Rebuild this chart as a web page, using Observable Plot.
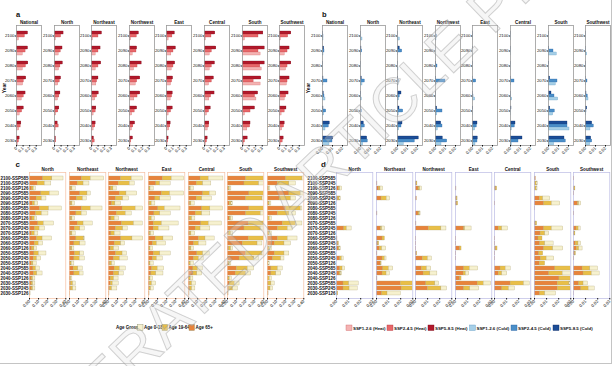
<!DOCTYPE html>
<html><head><meta charset="utf-8">
<script src="https://cdn.jsdelivr.net/npm/d3@7"></script>
<script src="https://cdn.jsdelivr.net/npm/@observablehq/plot@0.6"></script>
<style>
html,body{margin:0;padding:0;background:#fff;}
#root{position:relative;width:613px;height:366px;overflow:hidden;background:#fff;}
#root svg{position:absolute;}
</style></head>
<body><div id="root"></div>
<script>
// ---------------- DATA ----------------
const regionsAB = ["National","North","Northeast","Northwest","East","Central","South","Southwest"];
const regionsCD = ["North","Northeast","Northwest","East","Central","South","Southwest"];
const years = [2100,2090,2080,2070,2060,2050,2040,2030];
const scenarios = ["SSP585","SSP245","SSP126"];
const ageGroups = ["Age 65+","Age 19-64","Age 0-18"];
const xTicksA = [0,0.1,0.2,0.3];
const xTicksB = [0,0.01,0.02];
const xTicksC = [0,0.1,0.2,0.3,0.4];
const xTicksD = [0,0.01,0.02,0.03];
const heatLegend = ["SSP1-2.6 (Heat)","SSP2-4.5 (Heat)","SSP5-8.5 (Heat)"];
const coldLegend = ["SSP1-2.6 (Cold)","SSP2-4.5 (Cold)","SSP5-8.5 (Cold)"];
const ageLegend = ["Age 0-18","Age 19-64","Age 65+"];

// panel a: heat, rows = regionsAB, columns = years (2100..2030)
const heatSSP585 = [
 [.175,.175,.18,.148,.138,.111,.074,.048],
 [.138,.122,.127,.10,.09,.074,.048,.021],
 [.159,.138,.148,.106,.111,.074,.063,.037],
 [.143,.116,.185,.164,.164,.116,.085,.053],
 [.127,.143,.132,.10,.095,.095,.063,.032],
 [.164,.18,.159,.143,.153,.095,.074,.048],
 [.317,.338,.338,.286,.238,.19,.122,.079],
 [.18,.153,.18,.153,.138,.106,.079,.063]];
const heatSSP245 = [
 [.127,.138,.143,.111,.111,.085,.063,.037],
 [.10,.095,.09,.08,.074,.058,.063,.026],
 [.106,.106,.106,.085,.085,.063,.058,.048],
 [.111,.106,.122,.116,.122,.079,.058,.026],
 [.09,.106,.106,.085,.085,.069,.058,.026],
 [.106,.111,.111,.111,.10,.069,.069,.037],
 [.243,.243,.27,.169,.19,.122,.116,.037],
 [.132,.122,.122,.122,.10,.079,.069,.048]];
const heatSSP126 = [
 [.037,.095,.095,.10,.08,.048,.042,.02],
 [.02,.063,.069,.058,.053,.026,.021,.01],
 [.021,.063,.063,.074,.058,.032,.032,.021],
 [.026,.048,.069,.095,.074,.042,.037,.016],
 [.032,.074,.079,.069,.063,.032,.042,.016],
 [.021,.079,.079,.069,.074,.037,.048,.021],
 [.037,.275,.291,.275,.212,.037,.074,.021],
 [.021,.079,.10,.111,.079,.032,.042,.021]];

// panel b: cold
const coldSSP585 = [
 [.0005,.0017,.0005,.001,.0013,.001,.0073,.0107],
 [.0003,.001,.0003,.0013,.0007,.0007,.0033,.0067],
 [.0003,.0023,.0003,.0007,.004,.002,.005,.0213],
 [.0003,.0003,.0007,.0007,.0003,.0017,.0057,.0073],
 [.0003,.0003,.0003,.0003,.0003,.0007,.005,.0053],
 [.0003,.0003,.0003,.0003,.0003,.001,.005,.012],
 [.0003,.0007,.0007,.0017,.003,.0017,.019,.016],
 [.0003,.0003,.0003,.0003,.001,.0017,.0067,.0057]];
const coldSSP245 = [
 [.001,.002,.0005,.005,.002,.0037,.0063,.010],
 [.0007,.0017,.0003,.0043,.0007,.0013,.0043,.0073],
 [.0003,.0047,.0003,.0013,.0023,.0057,.004,.0173],
 [.0013,.0003,.002,.010,.0003,.007,.007,.0117],
 [.0007,.0003,.0003,.0037,.001,.0003,.0043,.005],
 [.0003,.0003,.0003,.004,.0007,.0003,.0043,.008],
 [.0003,.005,.0003,.009,.006,.0063,.019,.0173],
 [.0003,.0007,.0003,.002,.0023,.001,.0083,.0067]];
const coldSSP126 = [
 [.001,.001,.0005,.001,.003,.0017,.003,.007],
 [.002,.0007,.0003,.002,.0013,.0007,.002,.0027],
 [.0023,.0003,.001,.001,.0017,.0013,.0017,.0063],
 [.001,.0003,.0007,.001,.0003,.0017,.0023,.006],
 [.0003,.0003,.0003,.0007,.0027,.0003,.0027,.003],
 [.0003,.0003,.0003,.0007,.0017,.0003,.0013,.0013],
 [.0003,.0083,.0003,.0073,.0097,.0047,.021,.0057],
 [.0003,.0017,.0003,.0007,.003,.0007,.005,.0047]];

// panel c: heat by age group; rows = regionsCD, columns = 24 year-scenario rows
const heatAge65 = [
 [.151,.090,.029,.130,.079,.036,.115,.072,.032,.097,.061,.029,.083,.058,.029,.054,.047,.025,.043,.050,.022,.022,.022,.004],
 [.137,.090,.018,.119,.083,.018,.137,.076,.018,.090,.061,.018,.076,.054,.018,.061,.054,.011,.047,.054,.011,.018,.018,.000],
 [.137,.112,.029,.126,.083,.040,.155,.090,.032,.148,.083,.032,.141,.068,.025,.083,.061,.018,.068,.061,.025,.025,.018,.000],
 [.159,.086,.011,.148,.076,.014,.108,.065,.014,.058,.058,.014,.079,.050,.011,.058,.050,.011,.040,.032,.011,.014,.011,.004],
 [.133,.090,.018,.162,.090,.018,.151,.079,.018,.141,.079,.018,.115,.061,.018,.097,.061,.011,.054,.054,.011,.018,.018,.004],
 [.205,.187,.014,.241,.205,.025,.241,.205,.025,.234,.187,.018,.234,.169,.018,.205,.133,.011,.104,.090,.011,.025,.018,.004],
 [.205,.115,.011,.241,.133,.011,.205,.115,.007,.169,.115,.011,.115,.079,.011,.079,.061,.000,.043,.043,.007,.011,.011,.004]];
const heatAge1964 = [
 [.101,.079,.018,.094,.058,.025,.101,.065,.025,.061,.050,.029,.061,.043,.025,.050,.036,.018,.029,.036,.018,.018,.018,.004],
 [.097,.065,.014,.079,.065,.014,.097,.058,.014,.065,.058,.014,.086,.065,.014,.058,.058,.014,.050,.058,.007,.022,.022,.004],
 [.119,.123,.025,.072,.079,.036,.144,.101,.036,.133,.079,.036,.123,.072,.036,.072,.065,.022,.058,.058,.036,.022,.022,.004],
 [.097,.043,.011,.090,.054,.022,.072,.065,.022,.090,.054,.014,.086,.043,.011,.072,.043,.011,.061,.054,.011,.025,.018,.004],
 [.090,.072,.007,.072,.061,.014,.090,.072,.022,.083,.054,.014,.072,.054,.014,.065,.054,.014,.050,.043,.014,.022,.022,.004],
 [.198,.162,.011,.162,.180,.018,.162,.162,.014,.169,.180,.022,.169,.162,.022,.180,.162,.014,.119,.115,.014,.054,.043,.004],
 [.180,.126,.007,.126,.126,.014,.162,.126,.018,.144,.108,.014,.108,.108,.014,.108,.090,.011,.072,.054,.018,.032,.022,.004]];
const heatAge018 = [
 [.123,.072,.025,.101,.050,.036,.140,.072,.029,.112,.061,.040,.104,.050,.029,.083,.047,.036,.043,.058,.025,.025,.025,.004],
 [.148,.065,.036,.036,.043,.029,.130,.058,.029,.101,.050,.036,.007,.058,.022,.043,.058,.029,.050,.043,.014,.029,.036,.004],
 [.123,.054,.036,.119,.065,.061,.083,.065,.050,.097,.050,.065,.119,.043,.058,.050,.086,.029,.065,.050,.050,.065,.058,.007],
 [.137,.115,.036,.155,.115,.040,.173,.115,.036,.184,.119,.036,.108,.101,.029,.115,.065,.036,.072,.079,.029,.047,.029,.004],
 [.162,.090,.036,.072,.108,.036,.137,.090,.036,.144,.108,.043,.101,.083,.029,.072,.054,.036,.058,.054,.029,.043,.036,.004],
 [.054,.054,.018,.054,.036,.018,.054,.036,.022,.054,.036,.022,.054,.054,.022,.043,.054,.018,.072,.054,.022,.054,.054,.004],
 [.036,.072,.014,.054,.054,.018,.018,.072,.022,.072,.054,.022,.108,.072,.022,.054,.036,.014,.054,.054,.022,.036,.029,.004]];

// panel d: cold by age group
const coldAge65 = [
 [0,0,.0019,0,.0014,0,0,0,0,0,.0064,0,.0008,.0014,.0017,0,.0031,0,.0031,.0025,0,.0058,.0058,.0008],
 [0,.0008,.0022,0,.0042,0,0,.0008,0,0,.0036,0,.005,.0014,.0028,.0008,.005,.0036,.0056,.005,.0008,.020,.0208,.0047],
 [0,.0008,.0025,0,.0011,0,0,.0025,0,.0008,.0111,0,.0006,.0006,.0006,.0011,.0061,0,.0053,.0067,0,.0089,.0103,0],
 [0,0,.0008,0,.0011,.0014,0,0,0,0,.0072,0,.0006,.0006,.0039,.0006,.0006,0,.0072,.0067,.0039,.0183,.0072,0],
 [0,0,.0014,0,0,.0006,0,0,0,0,.0036,0,.0006,.0006,.0014,.0006,.0006,0,.005,.0036,0,.0133,.0064,0],
 [.0011,.0006,.0006,0,.0044,.008,.0003,0,0,.0011,.008,.005,.0033,.0047,.008,.0039,.0053,.0044,.0172,.0122,.0206,.0192,.0192,.0047],
 [.0006,0,.0008,.0006,0,.0036,0,.0006,0,0,.0025,.0008,0,.0019,.0028,.0014,.0006,0,.0075,.0083,0,.0047,.0064,.0003]];
const coldAge1964 = [
 [0,0,.0011,0,.0011,0,0,0,0,0,.0022,0,0,.0006,.0008,0,.0014,0,.0019,.0011,0,.0047,.0050,.0006],
 [0,0,.0011,0,.0042,0,0,0,0,0,.0011,0,.0019,.0008,.0019,0,.0019,.0006,.0047,.0033,0,.011,.0111,.0044],
 [0,.0008,.0014,0,0,0,0,.0011,0,0,.0103,0,0,0,0,.0003,.0042,0,.0042,.0056,0,.0075,.0111,0],
 [0,0,0,0,.0006,.0008,0,0,0,0,.0008,0,0,0,.0011,0,0,0,.0047,.0019,.0011,.005,.005,0],
 [0,0,.0008,0,0,0,0,0,0,0,.0028,0,0,0,.0011,0,0,0,.0042,.0028,0,.0111,.0056,0],
 [0,.0011,.0011,0,.0028,.0064,0,0,0,.0011,.0064,.0039,.0033,.0042,.0075,.0033,.0047,.0044,.0131,.0111,.0097,.0097,.0111,.0042],
 [0,0,.0008,0,0,.0011,0,0,0,0,.0017,.0008,0,.0022,.0019,.0006,0,0,.0064,.0069,0,.0036,.0061,0]];
const coldAge018 = [
 [0,0,.0017,0,.0011,0,0,0,0,0,.0039,0,0,0,.0011,0,.0014,0,.0022,.0011,0,.0078,.0067,0],
 [0,0,.0022,0,.0028,0,0,0,0,0,.0022,0,0,0,.0033,0,.0014,0,.0036,.0028,0,.002,.002,.0111],
 [0,0,.0014,0,0,0,0,.0006,0,0,.0042,0,0,0,0,0,.0033,0,.0036,.0058,0,.0031,.0047,0],
 [0,0,0,0,0,0,0,0,0,0,.0053,0,0,0,0,0,0,0,.0069,.0028,0,.0061,.0075,0],
 [0,0,0,0,0,0,0,0,0,0,.0047,0,0,0,0,0,0,0,.0042,.0042,0,.0047,.005,0],
 [0,.0011,.0008,0,.0058,.0069,0,0,0,0,.0094,.0033,0,.0069,.0083,0,.0064,0,0,.0069,0,.0014,0,.0089],
 [0,0,0,0,0,.0017,0,0,0,0,.0017,0,0,.0022,.0028,0,0,0,.0064,.0064,0,.0036,.005,0]];

// ---------------- STYLE ----------------
const FONT = "'Liberation Sans', Arial, Helvetica, sans-serif";
const heatFill = {SSP126:"#F4B3B3", SSP245:"#E8676A", SSP585:"#B2182B"};
const heatStroke = {SSP126:"#cf6767", SSP245:"#b53a3d", SSP585:"#760d1a"};
const coldFill = {SSP126:"#A6CFE7", SSP245:"#4B8FC8", SSP585:"#1C4D97"};
const coldStroke = {SSP126:"#5f97c2", SSP245:"#2b62a0", SSP585:"#0d2b62"};
const ageFill = ["#E8833B","#E9BF47","#F6F1CF"]; // 65+, 19-64, 0-18

const root = document.getElementById("root");
function put(node, left, top) {
  node.style.left = left + "px";
  node.style.top = top + "px";
  root.appendChild(node);
}
const baseStyle = {fontFamily: FONT, fontSize: "4.4px", color: "#111", background: "transparent", overflow: "visible"};
const fmt2 = d3.format(".2f");

// ---------------- PANELS a & b ----------------
function scenarioFacet(region, ri, arrays, fills, strokes, xmax, ticks, tickFmt, frameLeft) {
  const mL = 14, mR = 2, mT = 8, mB = 16, fw = 25, fh = 120, frameTop = 25;
  const data = years.flatMap((yr, j) => scenarios.map(s => ({key: `${yr}|${s}`, scenario: s, value: arrays[s][ri][j]})));
  const yDomain = years.flatMap(yr => [`${yr}|g1`, `${yr}|g2`, ...scenarios.map(s => `${yr}|${s}`)]);
  const svg = Plot.plot({
    width: fw + mL + mR, height: fh + mT + mB,
    marginLeft: mL, marginRight: mR, marginTop: mT, marginBottom: mB,
    style: baseStyle,
    x: {domain: [0, xmax]},
    y: {domain: yDomain, paddingInner: 0, paddingOuter: 0},
    marks: [
      ...scenarios.map(s => Plot.barX(data.filter(d => d.scenario === s), {
        x: "value", y: "key", fill: fills[s], stroke: strokes[s], strokeWidth: 0.3, clip: true})),
      Plot.frame({stroke: "#999999", strokeWidth: 0.8}),
      Plot.axisX({ticks, tickFormat: tickFmt, tickRotate: -45, tickSize: 1.5, tickPadding: 0.6, label: null, fontSize: 4.3}),
      Plot.axisY({ticks: years.map(y => `${y}|SSP245`), tickFormat: d => d.split("|")[0], tickSize: 1.2, tickPadding: 0.8, label: null, fontSize: 4.3}),
      Plot.text([region], {frameAnchor: "top", lineAnchor: "bottom", dy: -1.2, fontWeight: "bold", fontSize: 4.6})
    ]
  });
  put(svg, frameLeft - mL, frameTop - mT);
}
const heatArrays = {SSP585: heatSSP585, SSP245: heatSSP245, SSP126: heatSSP126};
const coldArrays = {SSP585: coldSSP585, SSP245: coldSSP245, SSP126: coldSSP126};
regionsAB.forEach((r, i) => {
  scenarioFacet(r, i, heatArrays, heatFill, heatStroke, 0.38, xTicksA, d => d === 0 ? "0" : d3.format(".1f")(d), 16 + i * 37.6);
  scenarioFacet(r, i, coldArrays, coldFill, coldStroke, 0.025, xTicksB, fmt2, 322 + i * 37.6);
});

// ---------------- PANELS c & d ----------------
const rowKeys = years.flatMap(yr => scenarios.map(s => `${yr}-${s}`));
function ageFacet(region, ri, arrs, xmax, ticks, frameLeft, frameColor, showLabels) {
  const mL = 30, mR = 2, mT = 7, mB = 18, fw = 36.3, fh = 126, frameTop = 172;
  const data = rowKeys.flatMap((k, j) => ageGroups.map((a, ai) => ({key: k, age: a, value: arrs[ai][ri][j]})));
  const svg = Plot.plot({
    width: fw + mL + mR, height: fh + mT + mB,
    marginLeft: mL, marginRight: mR, marginTop: mT, marginBottom: mB,
    style: baseStyle,
    x: {domain: [0, xmax]},
    y: {domain: rowKeys, paddingInner: 0.22, paddingOuter: 0.1},
    color: {domain: ageGroups, range: ageFill},
    marks: [
      Plot.barX(data, Plot.stackX({x: "value", y: "key", fill: "age", stroke: "#b0a374", strokeWidth: 0.3, clip: true})),
      Plot.frame({stroke: frameColor, strokeWidth: 0.7}),
      Plot.axisX({ticks, tickFormat: fmt2, tickRotate: -45, tickSize: 1.5, tickPadding: 0.6, label: null, fontSize: 4.3}),
      showLabels ? Plot.axisY({tickSize: 0, tickPadding: 1, label: null, fontSize: 4.5, fontWeight: "bold"}) : Plot.axisY({ticks: [], label: null}),
      Plot.text([region], {frameAnchor: "top", lineAnchor: "bottom", dy: -1, fontWeight: "bold", fontSize: 4.6})
    ]
  });
  put(svg, frameLeft - mL, frameTop - mT);
}
regionsCD.forEach((r, i) => {
  ageFacet(r, i, [heatAge65, heatAge1964, heatAge018], 0.4, xTicksC, 29 + i * 39.65, "#F5BFA2", i === 0);
  ageFacet(r, i, [coldAge65, coldAge1964, coldAge018], 0.03, xTicksD, 336 + i * 39.5, "#BBBBE4", i === 0);
});

// ---------------- ANNOTATIONS / LEGENDS ----------------
const ov = d3.select(root).append("svg").attr("width", 613).attr("height", 366)
  .style("left", "0px").style("top", "0px").style("pointer-events", "none")
  .style("font-family", FONT);
function t(x, y, s, size, weight = "bold", anchor = "start") {
  return ov.append("text").attr("x", x).attr("y", y).attr("font-size", size)
    .attr("font-weight", weight).attr("text-anchor", anchor).attr("dominant-baseline", "central")
    .attr("fill", "#111").text(s);
}
t(16, 14.5, "a", 7.5);
t(322, 14.5, "b", 7.5);
t(15.5, 164, "c", 8);
t(321, 164, "d", 8);
t(4, 88, "Year", 5).attr("transform", "rotate(-90 4 88)").attr("text-anchor", "middle");
t(308, 88, "Year", 5).attr("transform", "rotate(-90 308 88)").attr("text-anchor", "middle");

// Age legend
t(116, 327.5, "Age Group", 4.5);
const ageLegendX = [137.5, 162, 189];
const ageLegendFill = [ageFill[2], ageFill[1], ageFill[0]];
ageLegend.forEach((s, i) => {
  ov.append("rect").attr("x", ageLegendX[i]).attr("y", 324.5).attr("width", 5.5).attr("height", 6)
    .attr("fill", ageLegendFill[i]).attr("stroke", "#8d8d6a").attr("stroke-width", 0.4);
  t(ageLegendX[i] + 6.5, 327.8, s, 4.5);
});
// Scenario legend
const scenX = [346, 387, 428, 469.5, 511, 553];
const scenFill = [heatFill.SSP126, heatFill.SSP245, heatFill.SSP585, coldFill.SSP126, coldFill.SSP245, coldFill.SSP585];
const scenStroke = [heatStroke.SSP126, heatStroke.SSP245, heatStroke.SSP585, coldStroke.SSP126, coldStroke.SSP245, coldStroke.SSP585];
[...heatLegend, ...coldLegend].forEach((s, i) => {
  ov.append("rect").attr("x", scenX[i]).attr("y", 325).attr("width", 6).attr("height", 5.5)
    .attr("fill", scenFill[i]).attr("stroke", scenStroke[i]).attr("stroke-width", 0.4);
  t(scenX[i] + 7, 328, s, 4.4);
});

// border lines
ov.append("line").attr("x1", 0).attr("x2", 612).attr("y1", 363.5).attr("y2", 363.5).attr("stroke", "#c4c4c4").attr("stroke-width", 1);
ov.append("line").attr("x1", 611.5).attr("x2", 611.5).attr("y1", 0).attr("y2", 364).attr("stroke", "#c4c4c4").attr("stroke-width", 1);

// watermark
ov.append("text").attr("transform", "translate(312,180) rotate(-44)")
  .attr("text-anchor", "middle").attr("dominant-baseline", "central")
  .attr("font-size", 62).attr("font-family", FONT)
  .attr("fill", "rgba(225,225,225,0.3)").attr("stroke", "rgba(150,150,150,0.42)").attr("stroke-width", 1)
  .text("ACCELERATED ARTICLE PREVIEW");
</script>
</body></html>
